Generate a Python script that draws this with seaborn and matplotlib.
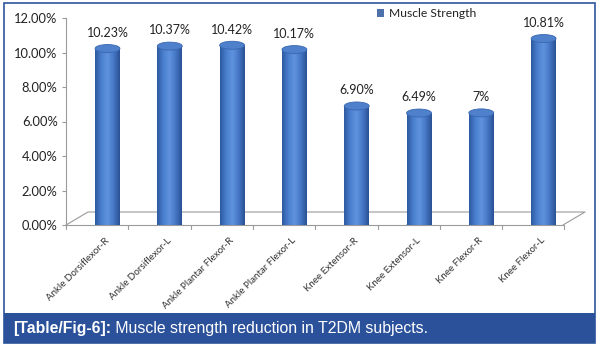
import matplotlib
matplotlib.use("Agg")
import matplotlib.pyplot as plt
import matplotlib.transforms as mtransforms
from matplotlib.patches import Ellipse, Rectangle
import numpy as np
import pandas as pd
import seaborn as sns

categories = ["Ankle Dorsiflexor-R", "Ankle Dorsiflexor-L", "Ankle Plantar Flexor-R",
              "Ankle Plantar Flexor-L", "Knee Extensor-R", "Knee Extensor-L",
              "Knee Flexor-R", "Knee Flexor-L"]
values = [10.23, 10.37, 10.42, 10.17, 6.90, 6.49, 6.50, 10.81]
value_labels = ["10.23%", "10.37%", "10.42%", "10.17%", "6.90%", "6.49%", "7%", "10.81%"]
y_ticks = [0, 2, 4, 6, 8, 10, 12]
y_ticklabels = ["0.00%", "2.00%", "4.00%", "6.00%", "8.00%", "10.00%", "12.00%"]
series_name = "Muscle Strength"
caption_bold = "[Table/Fig-6]:"
caption_text = " Muscle strength reduction in T2DM subjects."

sns.set_theme(style="white")
plt.rcParams['font.family'] = ['Lato', 'DejaVu Sans']

W, H = 599, 347
fig = plt.figure(figsize=(W / 100, H / 100), dpi=100)

# axes geometry in pixels
ax_left, ax_right, ax_top, ax_bottom = 66, 585, 18, 225
ax = fig.add_axes([ax_left / W, 1 - ax_bottom / H, (ax_right - ax_left) / W, (ax_bottom - ax_top) / H])

df = pd.DataFrame({"muscle": categories, "value": values, "series": series_name})
sns.barplot(data=df, x="muscle", y="value", hue="series", palette=["#3E6DBA"],
            width=0.4, ax=ax, legend=True, zorder=3, edgecolor="none")

px_per_cat = 62.3
first_center = 107.5
xl0 = -(first_center - ax_left) / px_per_cat
xl1 = (ax_right - first_center) / px_per_cat
ax.set_xlim(xl0, xl1)
ax.set_ylim(0, 12)
px_per_unit = (ax_bottom - ax_top) / 12.0

# cylinder shading
cmap = matplotlib.colors.LinearSegmentedColormap.from_list(
    "cyl", ["#2D5AA0", "#4A7FCF", "#5F93DE", "#4677C6", "#2A5294"])
grad = np.linspace(0, 1, 64).reshape(1, -1)
ell_h = 8 / px_per_unit
for p in ax.patches[:len(values)]:
    x0, w, h = p.get_x(), p.get_width(), p.get_height()
    im = ax.imshow(grad, extent=[x0, x0 + w, 0, h], aspect="auto", cmap=cmap,
                   zorder=3.1, origin="lower")
    im.set_clip_path(p)
    ax.add_patch(Ellipse((x0 + w / 2, 0), w, ell_h, facecolor="#3366B0",
                         edgecolor="none", zorder=3.0))
    ax.add_patch(Ellipse((x0 + w / 2, h), w, ell_h, facecolor="#4F80CC",
                         edgecolor="#3A68B0", linewidth=0.6, zorder=3.3))
ax.set_xlim(xl0, xl1)
ax.set_ylim(0, 12)

# value labels
for i, (v, lab) in enumerate(zip(values, value_labels)):
    ax.annotate(lab, (i, v), xytext=(0, 7), textcoords="offset points",
                ha="center", va="bottom", fontsize=9, color="#222222")

# floor and axes lines
depth_x = 22 / px_per_cat
depth_y = 13 / px_per_unit
x_end = (563 - first_center) / px_per_cat
gc = "#9A9A9A"
ax.plot([xl0, xl0 + depth_x, x_end + depth_x, x_end], [0, depth_y, depth_y, 0],
        color=gc, lw=0.8, clip_on=False, zorder=2)
ax.plot([xl0, x_end], [0, 0], color=gc, lw=0.8, clip_on=False, zorder=2)
for k in range(len(values) + 1):
    xt = xl0 + k
    ax.plot([xt, xt], [0, -4 / px_per_unit], color=gc, lw=0.8, clip_on=False)

for s in ["top", "right", "bottom"]:
    ax.spines[s].set_visible(False)
ax.spines["left"].set_color(gc)
ax.spines["left"].set_linewidth(0.8)
ax.set_yticks(y_ticks)
ax.set_yticklabels(y_ticklabels, fontsize=9.3, color="#222222")
ax.tick_params(axis="y", length=3, width=0.8, color=gc, pad=3, left=True)
ax.set_xticks(range(len(categories)))
ax.set_xticklabels(categories, rotation=45, ha="right", va="top",
                   rotation_mode="anchor", fontsize=7, color="#333333")
ax.tick_params(axis="x", length=0, pad=8)
offset = mtransforms.ScaledTranslation(-3 / 100, 0, fig.dpi_scale_trans)
for t in ax.get_xticklabels():
    t.set_transform(t.get_transform() + offset)
ax.set_xlabel("")
ax.set_ylabel("")

leg = ax.legend(loc="upper left", bbox_to_anchor=(377 / W, 1 - 8 / H),
                bbox_transform=fig.transFigure, frameon=False, fontsize=8.7,
                handlelength=0.6, handleheight=0.6, handletextpad=0.4,
                borderpad=0, borderaxespad=0)
for t in leg.get_texts():
    t.set_color("#222222")

# border and caption bar
fig.patches.append(Rectangle((4 / W, 1 - 343 / H), 591 / W, 340 / H, transform=fig.transFigure,
                             fill=False, edgecolor="#2E559C", linewidth=1.2, zorder=0))
fig.patches.append(Rectangle((4 / W, 1 - 343 / H), 591 / W, 30 / H, transform=fig.transFigure,
                             facecolor="#2B519B", edgecolor="none", zorder=1))
t1 = fig.text(13 / W, 1 - 333 / H, caption_bold, color="white", fontsize=11.4,
              fontweight="bold", family=["Liberation Sans", "DejaVu Sans"], va="baseline")
fig.canvas.draw()
bb = t1.get_window_extent(renderer=fig.canvas.get_renderer())
fig.text(bb.x1 / W, 1 - 333 / H, caption_text, color="white", fontsize=11.4,
         family=["Liberation Sans", "DejaVu Sans"], va="baseline")

fig.savefig("out.png", dpi=100)
